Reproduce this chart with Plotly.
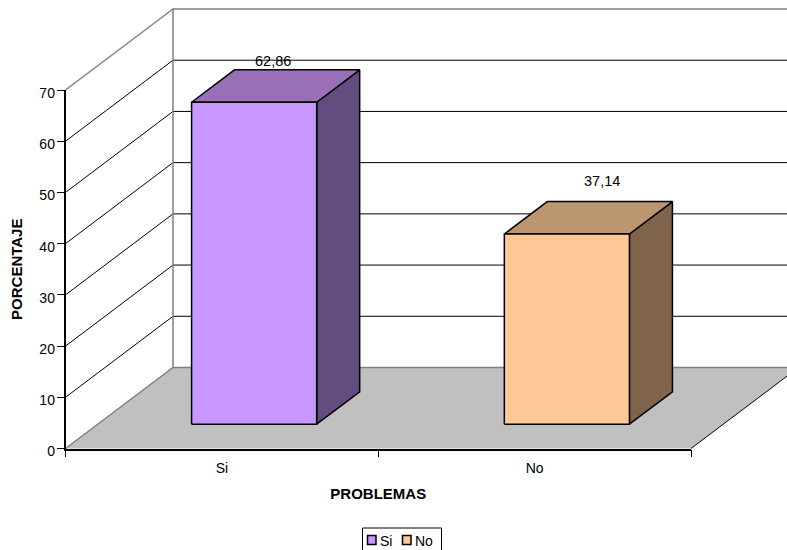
import plotly.graph_objects as go

categories = ["Si", "No"]
values = [62.86, 37.14]
y_ticks = [0, 10, 20, 30, 40, 50, 60, 70]
front_colors = ["#C896FF", "#FFC896"]
top_colors = ["#9970B8", "#BB9670"]
side_colors = ["#634C80", "#7F634C"]
label_shift_x = [-3, 14]
label_shift_y = [25, 37]

W, H = 787, 550
L, RIGHT, TOP, BOTTOM = 65.5, 691, 90, 448.5
FONT = "Liberation Sans, Arial, sans-serif"
n = len(categories)
ymax = y_ticks[-1]
SX = (RIGHT - L) / n               # pixels per category
SY = (BOTTOM - TOP) / ymax         # pixels per value unit
DX = 107.5 / SX                    # depth shift in x units
DY = 81 / SY                       # depth shift in y units
GAP = 0.3


def proj(x, v, d):
    return x + d * DX, v + d * DY


def line_trace(segments, color, width):
    xs, ys = [], []
    for seg in segments:
        for p in seg:
            xs.append(p[0])
            ys.append(p[1])
        xs.append(None)
        ys.append(None)
    return go.Scatter(x=xs, y=ys, mode="lines", line=dict(color=color, width=width),
                      hoverinfo="skip", showlegend=False)


def poly(points, fill, lw=1.5, lc="#000000"):
    xs = [p[0] for p in points] + [points[0][0]]
    ys = [p[1] for p in points] + [points[0][1]]
    return go.Scatter(x=xs, y=ys, mode="lines", fill="toself", fillcolor=fill,
                      line=dict(color=lc, width=lw), hoverinfo="skip", showlegend=False)


fig = go.Figure()

# floor
fig.add_trace(poly([proj(0, 0, 0), proj(n, 0, 0), proj(n, 0, 1), proj(0, 0, 1)], "#C0C0C0", 0, "#C0C0C0"))

# gridlines on side wall and back wall
inner = [t for t in y_ticks if 0 < t < ymax]
fig.add_trace(line_trace([[proj(0, t, 0), proj(0, t, 1), proj(n, t, 1)] for t in inner], "#000000", 1))
fig.add_trace(line_trace([[proj(n, 0, 0), proj(n, 0, 1)]], "#000000", 1))
fig.add_trace(line_trace([
    [proj(0, 0, 0), proj(0, 0, 1), proj(n, 0, 1)],
    [proj(0, 0, 1), proj(0, ymax, 1), proj(n, ymax, 1)],
    [proj(0, ymax, 0), proj(0, ymax, 1)],
], "#808080", 1.5))

# bars
annotations = []
for i, v in enumerate(values):
    x0, x1 = i + GAP, i + 1 - GAP
    d0, d1 = GAP, 1 - GAP
    fig.add_trace(poly([proj(x1, 0, d0), proj(x1, 0, d1), proj(x1, v, d1), proj(x1, v, d0)], side_colors[i]))
    fig.add_trace(poly([proj(x0, v, d0), proj(x1, v, d0), proj(x1, v, d1), proj(x0, v, d1)], top_colors[i]))
    fig.add_trace(poly([proj(x0, 0, d0), proj(x1, 0, d0), proj(x1, v, d0), proj(x0, v, d0)], front_colors[i]))
    cx, cy = proj(i + 0.5, v, 0.5)
    annotations.append(dict(x=cx, y=cy, xref="x", yref="y", text=f"{v:.2f}".replace(".", ","),
                            showarrow=False, xshift=label_shift_x[i], yshift=label_shift_y[i],
                            font=dict(size=14.5, color="#000000", family=FONT)))

# invisible carrier so the visible front-plane axes are drawn from the values
fig.add_trace(go.Scatter(x=[i + 0.5 for i in range(n)], y=values, xaxis="x2", yaxis="y2", mode="markers",
                         marker=dict(opacity=0), hoverinfo="skip", showlegend=False))


def px(x):
    return x / W


def py(y):
    return 1 - y / H


# legend
shapes = [dict(type="rect", xref="paper", yref="paper", x0=px(362.5), x1=px(441.5), y0=py(528), y1=py(560),
               line=dict(color="#000000", width=1), fillcolor="#FFFFFF")]
sw = [367.5, 402.5]
tx = [380, 415]
for i, c in enumerate(categories):
    shapes.append(dict(type="rect", xref="paper", yref="paper", x0=px(sw[i]), x1=px(sw[i] + 8.5),
                       y0=py(535.5), y1=py(544.5), line=dict(color="#000000", width=1.5),
                       fillcolor=front_colors[i]))
    annotations.append(dict(x=px(tx[i]), y=py(540.5), xref="paper", yref="paper", text=c, showarrow=False,
                            xanchor="left", yanchor="middle", xshift=-2,
                            font=dict(size=14, color="#000000", family=FONT)))

fig.update_layout(
    width=W, height=H, margin=dict(l=0, r=0, t=0, b=0, autoexpand=False),
    paper_bgcolor="#FFFFFF", plot_bgcolor="rgba(0,0,0,0)", showlegend=False,
    font=dict(family=FONT, size=14, color="#000000"),
    annotations=annotations, shapes=shapes,
    xaxis=dict(domain=[0, 1], range=[-L / SX, (W - L) / SX], visible=False),
    yaxis=dict(domain=[0, 1], range=[-(H - BOTTOM) / SY, BOTTOM / SY], visible=False),
    xaxis2=dict(domain=[px(L), px(RIGHT)], range=[0, n], anchor="y2",
                tickvals=[i + 0.5 for i in range(n)], ticktext=categories, ticks="",
                ticklabelstandoff=6,
                showgrid=False, zeroline=False, showline=True, linecolor="#000000", linewidth=1.5,
                minor=dict(tickvals=list(range(n + 1)), ticks="outside", ticklen=7, tickcolor="#000000", tickwidth=1),
                title=dict(text="<b>PROBLEMAS</b>", font=dict(size=15), standoff=13)),
    yaxis2=dict(domain=[py(BOTTOM), py(TOP)], range=[0, ymax], anchor="x2",
                tickvals=y_ticks, ticks="outside", ticklen=7, tickcolor="#000000", tickwidth=1,
                ticklabelstandoff=-1, ticklabelshift=3,
                showgrid=False, zeroline=False, showline=True, linecolor="#000000", linewidth=1.5,
                title=dict(text="<b>PORCENTAJE</b>", font=dict(size=15), standoff=13)),
)
fig.write_html("out.html", config={"displayModeBar": False},
               post_script="document.body.style.margin='0';document.body.style.overflow='hidden';")
